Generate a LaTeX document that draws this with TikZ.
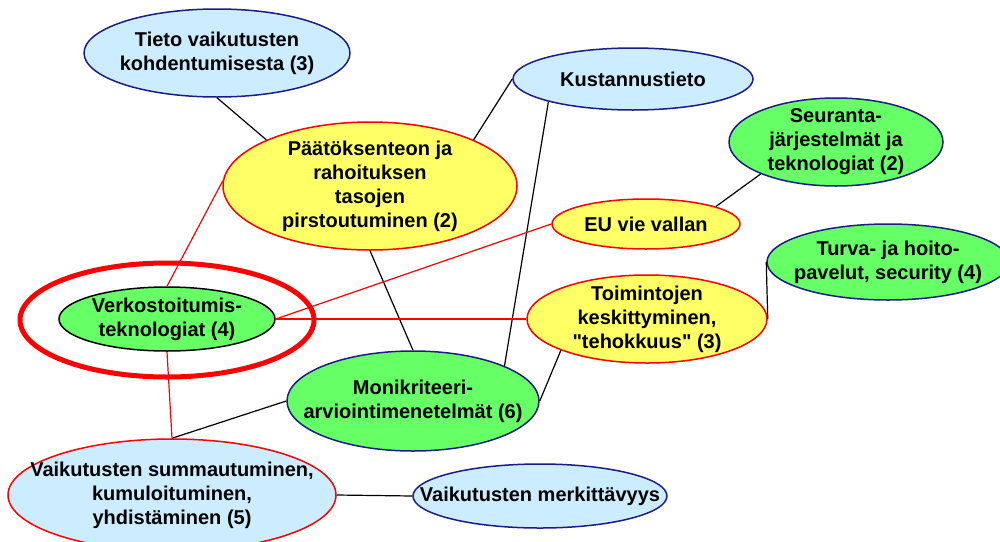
\documentclass[tikz,border=0pt]{standalone}
\usepackage{fontspec}
\setmainfont{Liberation Sans}[Ligatures=TeXOff]
\usepackage{tikz}
\usetikzlibrary{shapes.geometric}
\usepackage{xcolor}
\definecolor{ideablue}{HTML}{CCECFF}
\definecolor{ideayellow}{HTML}{FFFF66}
\definecolor{ideagreen}{HTML}{66FF66}
\definecolor{rimblue}{HTML}{1C1C86}

\begin{document}
\begin{tikzpicture}[x=1pt,y=-1pt,
    ideatext/.style={align=center, inner sep=0pt,
        font=\fontsize{20}{24}\selectfont\bfseries},
    idea/.style={ellipse, inner sep=0pt, line width=1.5pt},
    blueidea/.style={idea, draw=rimblue, fill=ideablue},
    greenidea/.style={idea, draw=rimblue, fill=ideagreen},
    yellowidea/.style={idea, draw=red, fill=ideayellow},
    link/.style={line width=1.2pt, black},
    redlink/.style={line width=1.2pt, red}]
    \useasboundingbox (0,0) rectangle (1000,541);

    % Draw the ideas
    \node[blueidea, minimum width=266pt, minimum height=88pt,
        label={[ideatext]center:{Tieto vaikutusten\\kohdentumisesta (3)}}] (tieto) at (217,53) {};
    \node[yellowidea, minimum width=294pt, minimum height=128pt,
        label={[ideatext]center:{Päätöksenteon ja\\rahoituksen\\tasojen\\pirstoutuminen (2)}}] (paatos) at (370,186) {};
    \node[blueidea, minimum width=240pt, minimum height=62pt,
        label={[ideatext]center:{Kustannustieto}}] (kustannus) at (633,79) {};
    \node[greenidea, minimum width=214pt, minimum height=88pt,
        label={[ideatext]center:{Seuranta-\\järjestelmät ja\\teknologiat (2)}}] (seuranta) at (836,142) {};
    \node[yellowidea, minimum width=188pt, minimum height=50pt,
        label={[ideatext]center:{EU vie vallan}}] (eu) at (646,224) {};
    \node[greenidea, minimum width=242pt, minimum height=76pt,
        label={[ideatext]center:{Turva- ja hoito-\\pavelut, security (4)}}] (turva) at (888,262) {};
    \node[yellowidea, minimum width=240pt, minimum height=88pt,
        label={[ideatext]center:{Toimintojen\\keskittyminen,\\"tehokkuus" (3)}}] (toiminnot) at (647,319) {};
    \node[greenidea, draw=black, minimum width=216pt, minimum height=64pt,
        label={[ideatext]center:{Verkostoitumis-\\teknologiat (4)}}] (verkosto) at (167,319) {};
    \node[ellipse, draw=red, line width=5pt, minimum width=294pt, minimum height=114pt] (rengas) at (167,320) {};
    \node[greenidea, minimum width=252pt, minimum height=100pt,
        label={[ideatext]center:{Monikriteeri-\\arviointimenetelmät (6)}}] (moni) at (413,401) {};
    \node[blueidea, draw=red, minimum width=328pt, minimum height=112pt,
        label={[ideatext]center:{Vaikutusten summautuminen,\\kumuloituminen,\\yhdistäminen (5)}}] (summa) at (172,495) {};
    \node[blueidea, minimum width=254pt, minimum height=64pt,
        label={[ideatext]center:{Vaikutusten merkittävyys}}] (merkitys) at (540,496) {};

    % Draw black links
    \foreach \a/\b in {tieto.south/paatos.156, paatos.24/kustannus.west,
        kustannus.195/moni.21, paatos.south/moni.north, moni.west/summa.north,
        moni.east/toiminnot.200, eu.14/seuranta.203, toiminnot.east/turva.west,
        summa.east/merkitys.west} {
        \draw[link] (\a) -- (\b);
    }

    % Draw red links
    \foreach \a/\b in {paatos.178/verkosto.north, verkosto.east/eu.west,
        verkosto.east/toiminnot.west, verkosto.south/summa.north} {
        \draw[redlink] (\a) -- (\b);
    }
\end{tikzpicture}
\end{document}
